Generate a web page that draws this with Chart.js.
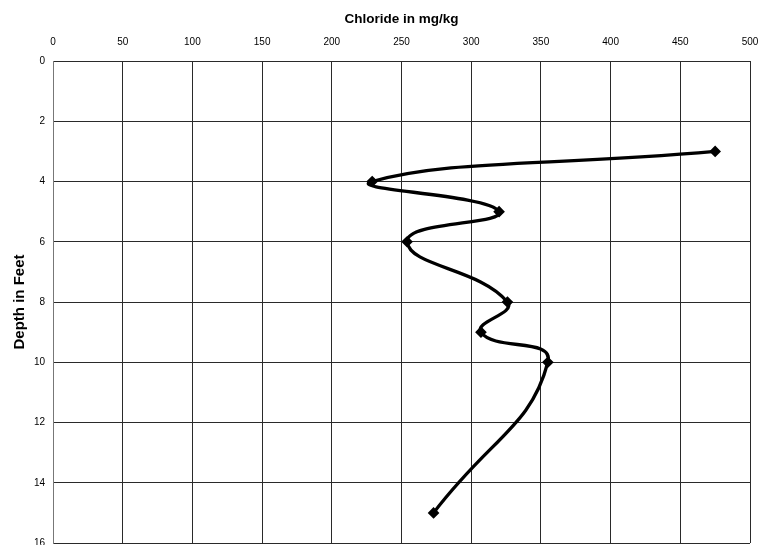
<!DOCTYPE html>
<html>
<head>
<meta charset="utf-8">
<script src="https://cdn.jsdelivr.net/npm/chart.js@4.4.1/dist/chart.umd.min.js"></script>
<style>
  html, body { margin: 0; padding: 0; background: #fff; }
  #wrap { width: 770px; height: 545px; position: relative; }
</style>
</head>
<body>
<div id="wrap"><canvas id="c" width="770" height="545"></canvas></div>
<script>
// Chloride profile by depth
const depthFt = [3, 4, 5, 6, 8, 9, 10, 15];
const chlorideMgKg = [475, 229, 320, 254, 326, 307, 355, 273];
const chlorideTicks = [0, 50, 100, 150, 200, 250, 300, 350, 400, 450, 500];
const depthTicks = [0, 2, 4, 6, 8, 10, 12, 14, 16];

const points = depthFt.map((d, i) => ({ x: chlorideMgKg[i], y: d }));
const family = 'Liberation Sans, Arial, sans-serif';
const tickFont = { family, size: 10 };

new Chart(document.getElementById('c'), {
  type: 'scatter',
  data: {
    datasets: [{
      data: points,
      showLine: true,
      tension: 0.5,
      borderColor: '#000',
      backgroundColor: '#000',
      borderWidth: 3.3,
      pointStyle: 'rectRot',
      pointRadius: 3.5,
      pointHoverRadius: 3.5
    }]
  },
  options: {
    responsive: false,
    animation: false,
    layout: { autoPadding: false, padding: { left: 0, right: 20, top: 0, bottom: 2 } },
    plugins: { legend: { display: false }, tooltip: { enabled: false } },
    scales: {
      x: {
        type: 'linear',
        position: 'top',
        min: 0, max: 500,
        afterBuildTicks: s => { s.ticks = chlorideTicks.map(v => ({ value: v })); },
        afterFit: s => { s.height = 61; s.paddingLeft = 0; s.paddingRight = 0; },
        ticks: { font: tickFont, color: '#000', padding: 13, maxRotation: 0 },
        grid: { color: '#2a2a2a', lineWidth: 1, drawTicks: false },
        border: { color: '#2a2a2a' },
        title: { display: true, text: 'Chloride in mg/kg', font: { family, size: 13.5, weight: 'bold' }, color: '#000', padding: { top: 11, bottom: 4 } }
      },
      y: {
        type: 'linear',
        reverse: true,
        min: 0, max: 16,
        afterBuildTicks: s => { s.ticks = depthTicks.map(v => ({ value: v })); },
        afterFit: s => { s.width = 53; s.paddingTop = 0; s.paddingBottom = 0; },
        ticks: { font: tickFont, color: '#000', padding: 8 },
        grid: { color: '#2a2a2a', lineWidth: 1, drawTicks: false },
        border: { color: '#777' },
        title: { display: true, text: 'Depth in Feet', font: { family, size: 15, weight: 'bold' }, color: '#000', padding: { top: 11, bottom: 2 } }
      }
    }
  }
});
</script>
</body>
</html>
